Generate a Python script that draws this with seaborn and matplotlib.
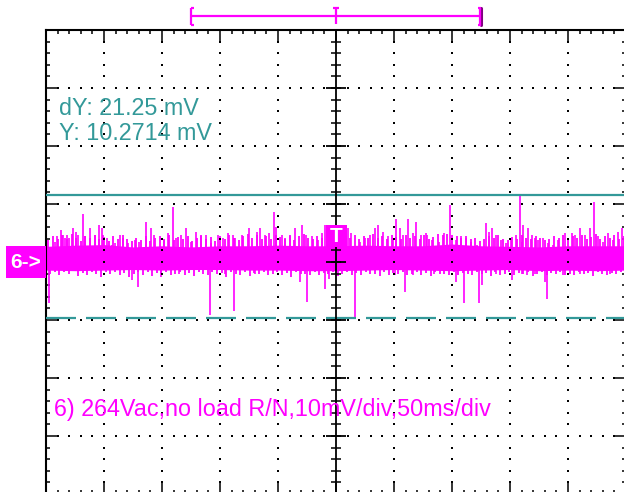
import numpy as np
import pandas as pd
import matplotlib
matplotlib.use("Agg")
import matplotlib.pyplot as plt
from matplotlib.patches import Rectangle
from matplotlib.ticker import MultipleLocator
import seaborn as sns

# ---------------- data (time in ms, level in mV) ----------------
band_t = [0, 25, 50, 75, 100, 125, 150, 175, 200, 225, 250, 275, 300, 325, 350, 375, 400, 425, 450, 475, 500]
band_hi = [2.7, 2.9, 3.0, 2.6, 2.8, 2.6, 2.8, 2.8, 2.9, 2.8, 2.8, 2.9, 2.8, 2.8, 3.1, 2.8, 2.7, 2.6, 2.8, 2.8, 2.8]
band_lo = [-1.4, -1.5, -1.4, -1.3, -1.4, -1.3, -1.3, -1.4, -1.4, -1.5, -1.5, -1.4, -1.3, -1.4, -1.5, -1.4, -1.3, -1.5, -1.4, -1.5, -1.4]

# tall spikes
up_t = [7.8, 9.8, 12.7, 14.4, 16.4, 18.4, 20.1, 23.6, 25.6, 27.9, 31.6, 33.6, 37.9, 42.2, 46.0, 48.0, 49.4,
        52.3, 56.6, 59.5, 63.8, 66.1, 71.0, 76.7,
        80.5, 86.2, 90.5, 93.4, 102.0, 104.9, 109.2, 112.0, 116.4, 120.7, 125.0, 129.3, 133.6, 137.9, 142.2,
        148.0, 152.9, 156.6, 160.9,
        163.2, 169.0, 174.7, 181.9, 184.7, 189.0, 192.0, 196.3, 198.0, 203.4, 206.3, 210.6, 214.9, 220.7,
        224.1, 229.3, 234.5, 237.9, 240.8, 243.7, 247.0, 252.0, 256.0,
        260.3, 263.2, 270.4, 274.7, 279.1, 283.4, 286.2, 290.5, 294.8, 299.1, 302.0, 304.9, 307.8, 312.1,
        316.4, 319.2, 323.5, 327.8,
        328.7, 333.0, 338.8, 343.1, 348.3, 353.2, 357.5, 361.8, 366.1, 371.8, 379.0, 381.9, 384.8, 387.7,
        392.0, 396.3, 400.6, 404.9, 408.6, 410.6,
        411.5, 415.8, 418.7, 421.6, 424.4, 428.7, 433.0, 437.3, 441.6, 447.4, 453.2, 456.0, 460.3, 464.7,
        469.0, 472.4, 476.1, 480.4, 484.7, 489.0, 493.4, 496.3]
up_v = [3.5, 4.4, 5.5, 4.7, 4.1, 4.7, 4.1, 5.9, 5.2, 4.7, 8.2, 4.4, 5.8, 4.7, 6.4, 5.9, 4.7,
        4.1, 3.0, 3.2, 4.7, 4.1, 3.2, 3.8,
        3.5, 6.9, 5.8, 4.7, 3.8, 5.0, 9.5, 4.1, 4.7, 5.8, 3.5, 5.2, 4.4, 4.7, 3.2,
        4.7, 4.1, 5.0, 4.7,
        4.1, 4.7, 5.8, 5.2, 5.8, 4.7, 5.0, 8.7, 6.0, 4.7, 4.1, 4.4, 5.8, 6.4,
        4.7, 4.4, 3.8, 5.0, 6.4, 6.4, 4.0, 3.6, 4.2,
        5.8, 5.0, 3.5, 4.1, 4.7, 5.8, 6.4, 5.2, 4.4, 3.8, 7.5, 5.8, 4.7, 7.5,
        5.0, 6.9, 4.7, 5.0,
        4.7, 3.8, 3.5, 5.0, 9.8, 3.8, 4.4, 4.1, 3.5, 3.0, 6.7, 5.2, 5.8, 4.7,
        3.8, 3.2, 4.1, 4.7, 11.5, 3.5,
        6.4, 5.8, 4.7, 4.1, 3.8, 4.1, 3.2, 3.0, 3.8, 5.0, 5.0, 4.7, 5.8, 4.7,
        5.8, 10.4, 4.4, 3.5, 5.0, 3.8, 5.2, 5.8]

down_t = [2.8, 74.4, 79.6, 99.1, 114.9, 141.4, 154.6, 161.8, 180.5, 219.2, 225.0, 240.5, 243.7,
          266.3, 300.6, 309.3, 316.4, 334.5, 353.2, 360.5, 373.5, 376.1, 387.7, 401.5, 410.6,
          414.4, 421.6, 430.2, 432.2, 445.9, 460.3, 486.2]
down_v = [-7.1, -3.1, -4.3, -2.6, -2.0, -9.1, -2.0, -8.5, -2.0, -3.4, -6.9, -4.7, -2.9,
          -9.9, -2.3, -5.2, -2.3, -2.0, -3.4, -7.1, -7.1, -4.0, -2.0, -3.1, -2.0,
          -2.3, -2.0, -3.4, -6.3, -2.3, -2.0, -2.0]

# fine noise, one sample every 4 ms starting at 2 ms
fine_up = [3.8, 4.4, 4.0, 4.6, 3.9, 4.8, 4.2, 3.6, 4.5, 4.1,
           4.7, 3.9, 4.3, 3.7, 4.4, 3.9, 4.6, 4.0, 3.6, 4.2,
           3.8, 4.5, 3.7, 4.1, 4.4, 4.0, 4.6, 3.8, 4.3, 3.9,
           4.5, 3.7, 4.2, 4.6, 3.9, 4.3, 3.6, 4.4, 4.0, 4.7,
           4.1, 3.8, 4.5, 4.9, 4.2, 4.6, 4.0, 4.4, 3.9, 4.7,
           4.3, 4.0, 4.6, 3.8, 4.4, 4.9, 4.1, 3.9, 4.5, 4.2,
           4.6, 4.0, 4.3, 3.8, 4.4, 4.1, 4.7, 4.0, 4.5, 4.2,
           4.8, 4.1, 4.4, 3.9, 4.6, 4.3, 4.0, 4.7, 4.2, 4.5,
           4.0, 4.6, 3.9, 4.3, 4.8, 4.6, 4.9, 4.7, 4.4, 4.1,
           4.5, 3.9, 4.2, 3.7, 4.0, 4.4, 4.1, 4.6, 4.0, 3.8,
           4.3, 4.0, 4.6, 4.2, 3.9, 4.4, 4.1, 3.8, 4.0, 4.5,
           4.2, 4.7, 4.0, 4.4, 4.1, 4.6, 3.9, 4.3, 4.8, 4.0,
           4.4, 4.1, 4.6, 4.0, 4.5]
fine_down = [-2.0, -1.7, -2.3, -1.8, -2.1, -1.6, -2.4, -1.9, -2.2, -1.7,
             -2.0, -2.5, -1.8, -2.1, -1.7, -2.3, -1.9, -2.6, -2.0, -1.8,
             -2.2, -1.7, -2.4, -1.9, -2.1, -1.8, -2.3, -2.0, -1.7, -2.2,
             -1.9, -2.4, -1.8, -2.0, -2.3, -1.7, -2.1, -1.9, -2.5, -1.8,
             -2.0, -2.2, -1.7, -2.4, -1.9, -2.1, -1.8, -2.3, -2.0, -1.7,
             -2.2, -1.9, -2.5, -1.8, -2.1, -2.0, -2.3, -1.7, -2.2, -1.9,
             -2.1, -1.8, -2.4, -2.0, -1.7, -2.2, -1.9, -2.3, -1.8, -2.1,
             -2.0, -2.4, -1.8, -2.2, -1.9, -2.1, -1.7, -2.3, -2.0, -1.8,
             -2.2, -1.9, -2.4, -1.8, -2.1, -2.0, -2.3, -1.7, -2.2, -1.9,
             -2.0, -2.3, -1.8, -2.1, -1.9, -2.4, -1.7, -2.2, -2.0, -1.8,
             -2.3, -1.9, -2.1, -1.8, -2.4, -2.0, -1.7, -2.2, -1.9, -2.1,
             -1.8, -2.3, -2.0, -2.2, -1.7, -2.1, -1.9, -2.4, -1.8, -2.0,
             -2.2, -1.9, -2.1, -1.8, -2.0]
fine_t = np.arange(2, 500, 4)

cursor_levels = [11.6, -9.65]
readout = ["dY: 21.25 mV", "Y: 10.2714 mV"]
caption = "6) 264Vac,no load R/N,10mV/div,50ms/div"
window = [125, 250, 375]

# ---------------- styling ----------------
sns.set_theme(style="white")
plt.rcParams["font.family"] = ["Liberation Sans", "DejaVu Sans"]
plt.rcParams["lines.scale_dashes"] = False

MAG = "#ff00ff"
TEAL = "#339999"

W, H = 624, 492
fig = plt.figure(figsize=(W / 100, H / 100), dpi=100)
fig.patch.set_facecolor("white")
ax = fig.add_axes([46 / W, (492 - 494) / H, 580 / W, 464 / H])
ax.set_facecolor("white")
ax.set_xlim(0, 500)
ax.set_ylim(-40, 40)

for s in ["left", "top", "right", "bottom"]:
    ax.spines[s].set_visible(True)
    ax.spines[s].set_color("black")
    ax.spines[s].set_linewidth(1.5)

ax.xaxis.set_major_locator(MultipleLocator(50))
ax.xaxis.set_minor_locator(MultipleLocator(10))
ax.yaxis.set_major_locator(MultipleLocator(10))
ax.yaxis.set_minor_locator(MultipleLocator(2))
ax.tick_params(which="both", direction="in", top=True, right=True, bottom=True, left=True,
               labelbottom=False, labelleft=False, color="black", width=1.1)
ax.tick_params(which="major", length=8)
ax.tick_params(which="minor", length=3)
ax.grid(False)

# ---------------- signal ----------------
ax.fill_between(band_t, band_lo, band_hi, color=MAG, lw=0, zorder=2)
ax.vlines(fine_t, 0.5, fine_up, color=MAG, lw=1.3, zorder=2)
ax.vlines(fine_t + 1.5, -0.5, fine_down, color=MAG, lw=1.3, zorder=2)
ax.vlines(up_t, 1.0, up_v, color=MAG, lw=1.2, zorder=2)
ax.vlines(down_t, 0.0, down_v, color=MAG, lw=1.2, zorder=2)

# ---------------- cursors ----------------
cur_df = pd.DataFrame({"t": [0, 500], "v": [cursor_levels[0]] * 2})
sns.lineplot(data=cur_df, x="t", y="v", color=TEAL, lw=1.6, ax=ax, zorder=3)
ax.plot([0, 500], [cursor_levels[1]] * 2, color=TEAL, lw=1.6, ls=(0, (21.6, 7.2)), zorder=3)

# ---------------- graticule ----------------
xs_minor = np.arange(0, 501, 10)
ys_minor = np.arange(-40, 41, 2)
for yv in [-30, -20, -10, 10, 20, 30]:
    ax.scatter(xs_minor, np.full_like(xs_minor, yv, dtype=float), marker="s", s=1.2,
               color="black", lw=0, zorder=5)
for xv in [50, 100, 150, 200, 300, 350, 400, 450]:
    ax.scatter(np.full_like(ys_minor, xv, dtype=float), ys_minor, marker="s", s=1.2,
               color="black", lw=0, zorder=5)
ax.axvline(250, color="black", lw=1.3, zorder=4)
ax.axhline(0, color="black", lw=1.3, zorder=1)
ax.plot(np.full_like(ys_minor, 250, dtype=float), ys_minor, ls="none", marker="_",
        ms=7, mew=1.1, color="black", zorder=4)
ax.plot([250] * 7, [-30, -20, -10, 0, 10, 20, 30], ls="none", marker="_",
        ms=14, mew=1.3, color="black", zorder=4)
ax.plot(xs_minor, np.zeros_like(xs_minor, dtype=float), ls="none", marker="|",
        ms=7, mew=1.1, color="black", zorder=1)

# ---------------- texts ----------------
ax.text(11.2, 25.3, readout[0], color=TEAL, fontsize=16.8, va="baseline", ha="left", zorder=6)
ax.text(11.2, 21.0, readout[1], color=TEAL, fontsize=16.8, va="baseline", ha="left", zorder=6)
ax.text(6.9, -26.6, caption, color=MAG, fontsize=16.8, va="baseline", ha="left", zorder=6)

# ---------------- time window bracket on top ----------------
ytop, ymid, ybot = 43.8, 42.4, 40.9
kw = dict(color=MAG, lw=1.6, clip_on=False, solid_capstyle="butt")
ax.plot([window[0], window[2]], [ymid, ymid], **kw)
ax.plot([window[0], window[0]], [ytop, ybot], **kw)
ax.plot([window[0], window[0] + 2.6], [ytop, ytop], **kw)
ax.plot([window[0], window[0] + 2.6], [ybot, ybot], **kw)
ax.plot([window[2], window[2]], [ytop, ybot], color="#800080", lw=2.2, clip_on=False)
ax.plot([window[2] - 0.9, window[2] - 0.9], [ytop, ybot], **kw)
ax.plot([window[2] - 2.6, window[2]], [ytop, ytop], **kw)
ax.plot([window[2] - 2.6, window[2]], [ybot, ybot], **kw)
ax.plot([window[1], window[1]], [ytop, 41.0], **kw)
ax.plot([window[1] - 3.0, window[1] + 3.0], [ytop, ytop], **kw)

# ---------------- channel and trigger markers ----------------
fig.add_artist(Rectangle((6 / W, (492 - 278) / H), 40 / W, 32 / H, transform=fig.transFigure,
                         facecolor=MAG, edgecolor="none"))
fig.text(26 / W, (492 - 262) / H, "6->", color="white", fontsize=15, ha="center", va="center",
         fontweight="bold")
fig.add_artist(Rectangle((326 / W, (492 - 247) / H), 21 / W, 22 / H, transform=fig.transFigure,
                         facecolor=MAG, edgecolor="none", zorder=10))
fig.text(336.5 / W, (492 - 236) / H, "T", color="white", fontsize=15, ha="center", va="center",
         fontweight="bold", zorder=11)

fig.savefig("out.png", dpi=100)
